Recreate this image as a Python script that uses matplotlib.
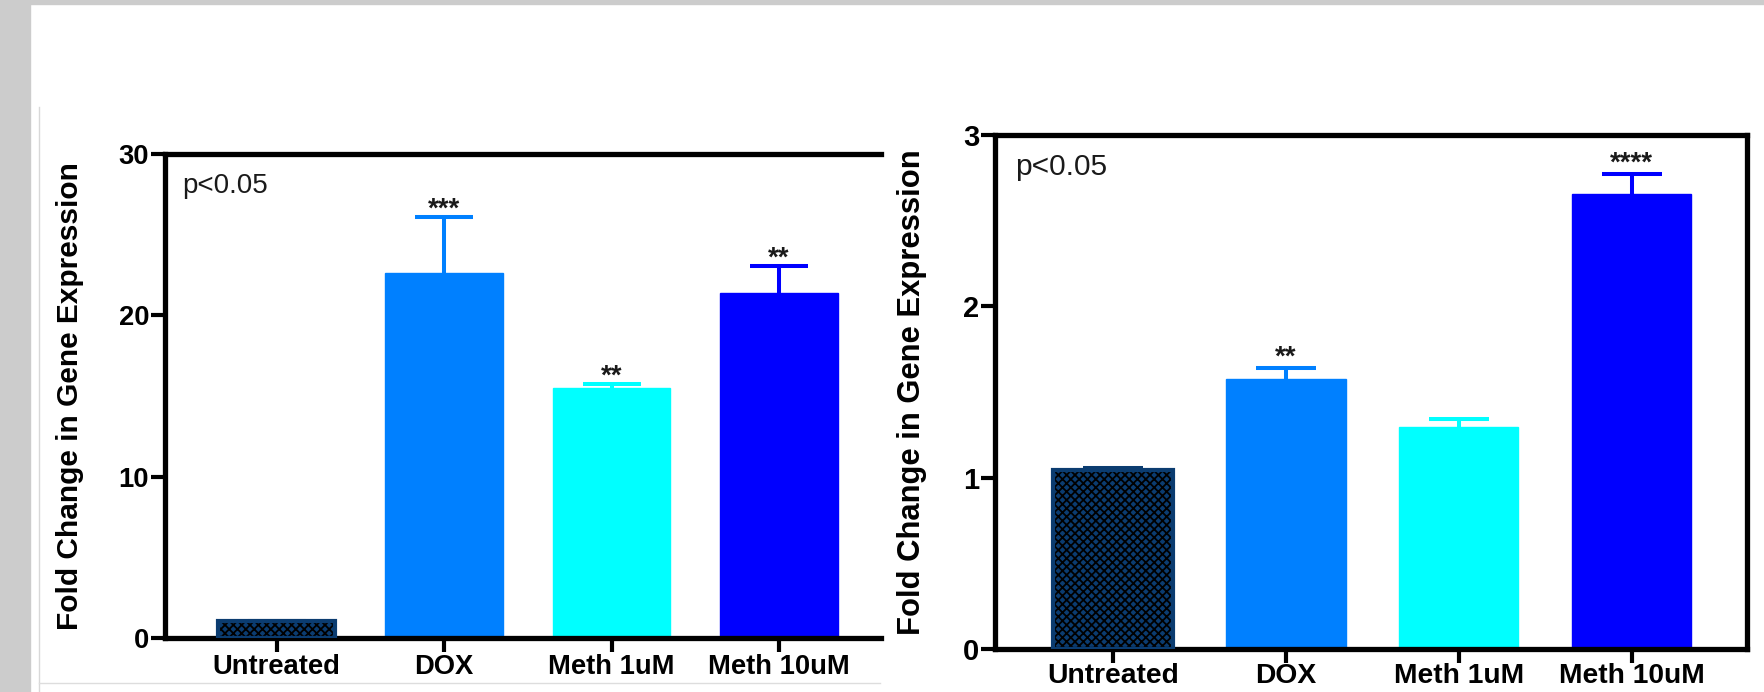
import matplotlib
matplotlib.use("Agg")
import matplotlib.pyplot as plt
from matplotlib.patches import Rectangle
from matplotlib.lines import Line2D

plt.rcParams['font.family'] = ['Liberation Sans', 'DejaVu Sans']
plt.rcParams['hatch.linewidth'] = 1.3

categories = ["Untreated", "DOX", "Meth 1uM", "Meth 10uM"]
bar_colors = ["#0b3c70", "#0080ff", "#00ffff", "#0000ff"]

left_means = [1.05, 22.6, 15.5, 21.4]
left_upper = [1.08, 26.1, 15.75, 23.06]
left_stars = ["", "***", "**", "**"]
left_yticks = [0, 10, 20, 30]

right_means = [1.044, 1.574, 1.297, 2.653]
right_upper = [1.055, 1.64, 1.343, 2.77]
right_stars = ["", "**", "", "****"]
right_yticks = [0, 1, 2, 3]

ylabel = "Fold Change in Gene Expression"
ptext = "p<0.05"

W, H = 1765, 692
fig = plt.figure(figsize=(W / 100, H / 100), dpi=100)
fig.patch.set_facecolor("white")

# page background strips / frame lines
fig.add_artist(Rectangle((0, 0), 30 / W, 1, transform=fig.transFigure, color="#cccccc", zorder=0))
fig.add_artist(Rectangle((0, 1 - 4 / H), 1, 4 / H, transform=fig.transFigure, color="#cccccc", zorder=0))
fig.add_artist(Line2D([39 / W, 39 / W], [0, 1 - 107 / H], transform=fig.transFigure, color="#d8d8d8", lw=1))
fig.add_artist(Line2D([39 / W, 880 / W], [1 - 683 / H, 1 - 683 / H], transform=fig.transFigure, color="#dddddd", lw=1))


def px_axes(x0, x1, ytop, ybot):
    return fig.add_axes([x0 / W, 1 - ybot / H, (x1 - x0) / W, (ybot - ytop) / H])


def draw(ax, means, upper, stars, yticks, xlim, width, capsize, show_right, label_x, ptext_xy,
         tick_fs, xtick_fs, label_fs, p_fs, star_off, tick_len, xpad):
    x = list(range(len(categories)))
    for i in x:
        if i == 0:
            ax.bar(i, means[i], width=width, color=bar_colors[0], edgecolor="black",
                   hatch="xxxx", linewidth=0, zorder=2)
            ax.bar(i, means[i], width=width, facecolor="none", edgecolor=bar_colors[0],
                   linewidth=3, zorder=3)
        else:
            ax.bar(i, means[i], width=width, color=bar_colors[i], edgecolor=bar_colors[i],
                   linewidth=1, zorder=2)
        eb = ax.errorbar(i, means[i], yerr=[[0], [upper[i] - means[i]]], fmt="none",
                         ecolor=bar_colors[i], elinewidth=2.9, capsize=capsize, capthick=2.9,
                         zorder=1)
        caps = eb[1]
        if len(caps) == 2:
            caps[0].set_visible(False)
        if stars[i]:
            ax.annotate(stars[i], (i, upper[i]), xytext=(0, star_off), textcoords="offset points",
                        ha="center", va="baseline", fontsize=20, fontweight="bold", color="#1a1a1a")
    ax.set_xlim(*xlim)
    ax.set_ylim(yticks[0], yticks[-1])
    ax.set_yticks(yticks)
    ax.set_yticklabels([str(t) for t in yticks], fontsize=tick_fs, fontweight="bold")
    ax.set_xticks(x)
    ax.set_xticklabels(categories, fontsize=xtick_fs, fontweight="bold")
    ax.tick_params(axis="both", direction="out", length=tick_len, width=3, pad=1.5, colors="black")
    ax.tick_params(axis="x", pad=xpad)
    for s in ["left", "bottom", "top", "right"]:
        ax.spines[s].set_linewidth(3.8)
        ax.spines[s].set_color("black")
    ax.spines["right"].set_visible(show_right)
    ax.set_ylabel(ylabel, fontsize=label_fs, fontweight="bold", va="center")
    ax.yaxis.set_label_coords(label_x, 0.5)
    ax.text(ptext_xy[0], ptext_xy[1], ptext, transform=ax.transAxes, fontsize=p_fs,
            ha="left", va="baseline", color="#1a1a1a")
    ax.set_facecolor("white")


axL = px_axes(165, 881, 154, 638)
draw(axL, left_means, left_upper, left_stars, left_yticks, (-0.666, 3.609), 0.70, 21,
     False, -0.1327, (0.0237, 0.920), 19.7, 19.7, 21.5, 20, 0, 10, 1.5)

axR = px_axes(995, 1747, 135, 649)
draw(axR, right_means, right_upper, right_stars, right_yticks, (-0.683, 3.668), 0.69, 21.6,
     True, -0.110, (0.0266, 0.9214), 21, 20.3, 22.3, 21.5, 2.5, 10, 0)

fig.savefig("out.png", dpi=100)
